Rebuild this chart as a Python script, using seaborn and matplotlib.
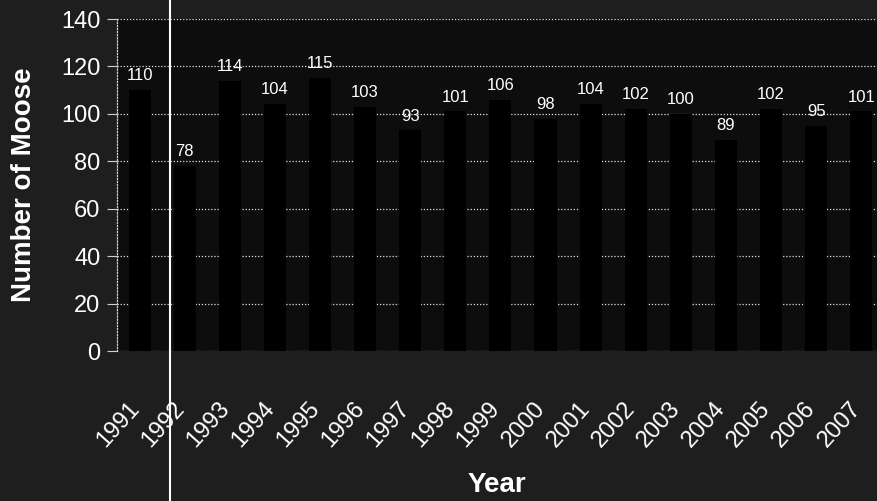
import matplotlib
matplotlib.use("Agg")
import matplotlib.pyplot as plt
import matplotlib.transforms as mtransforms
import seaborn as sns
import pandas as pd
from matplotlib.lines import Line2D

years = ["1991", "1992", "1993", "1994", "1995", "1996", "1997", "1998", "1999",
         "2000", "2001", "2002", "2003", "2004", "2005", "2006", "2007"]
moose = [110, 78, 114, 104, 115, 103, 93, 101, 106, 98, 104, 102, 100, 89, 102, 95, 101]
y_ticks = [0, 20, 40, 60, 80, 100, 120, 140]

sns.set_style("dark")
plt.rcParams['font.family'] = ['Liberation Sans', 'DejaVu Sans']

FIG_BG = "#1e1e1e"
AX_BG = "#0d0d0d"

fig = plt.figure(figsize=(8.77, 5.01), dpi=100, facecolor=FIG_BG)
ax = fig.add_axes([117/877, 150/501, 760/877, 332/501])
ax.set_facecolor(AX_BG)

df = pd.DataFrame({"Year": years, "Moose": moose})
sns.barplot(data=df, x="Year", y="Moose", color="black", saturation=1,
            width=0.49, linewidth=0, ax=ax)

ax.set_ylim(0, 140)
ax.set_xlim(-0.5, 16.35)
ax.set_yticks(y_ticks)
ax.set_axisbelow(True)
ax.yaxis.grid(True, color="#e0e0e0", linestyle=(0, (1, 1.5)), linewidth=0.9)
ax.xaxis.grid(False)

for s in ["top", "right", "bottom"]:
    ax.spines[s].set_visible(False)
ax.spines["left"].set_color("#d0d0d0")
ax.spines["left"].set_linestyle((0, (1, 1.5)))
ax.spines["left"].set_linewidth(0.9)

ax.tick_params(axis="y", left=True, colors="#d0d0d0", labelsize=17, length=7,
               width=0.8, pad=5, labelcolor="white")
ax.tick_params(axis="x", bottom=False, length=0, labelsize=17, pad=39,
               labelcolor="white")
shift = mtransforms.ScaledTranslation(-4/100, 0, fig.dpi_scale_trans)
for lbl in ax.get_xticklabels():
    lbl.set_rotation(48)
    lbl.set_ha("right")
    lbl.set_va("center")
    lbl.set_rotation_mode("anchor")
    lbl.set_transform(lbl.get_transform() + shift)

ax.bar_label(ax.containers[0], fmt="%g", padding=5, color="white", fontsize=12)

ax.set_ylabel("Number of Moose", fontsize=20, fontweight="bold", color="white")
ax.yaxis.set_label_coords(-0.105, 0.5)
ax.set_xlabel("Year", fontsize=20, fontweight="bold", color="white")
ax.xaxis.set_label_coords(0.5, -0.364)

fig.add_artist(Line2D([170/877, 170/877], [0, 1], transform=fig.transFigure,
                      color="white", linewidth=1.5))

fig.savefig("out.png", dpi=100, facecolor=FIG_BG)
